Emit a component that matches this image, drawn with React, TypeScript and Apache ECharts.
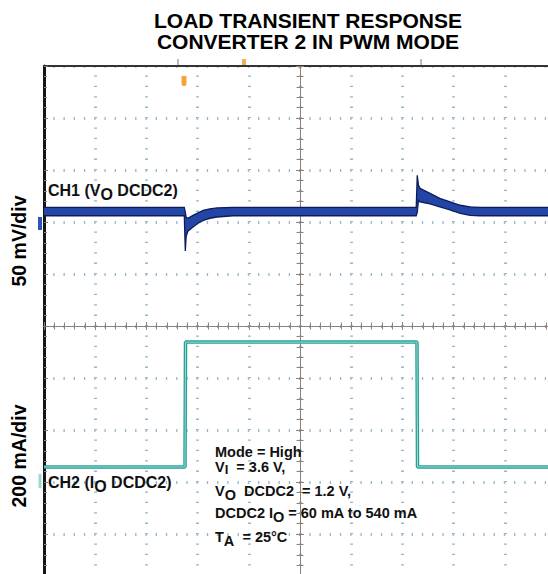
import React, { useEffect, useRef } from 'react';
import * as echarts from 'echarts';

// ---- data (time in oscilloscope divisions, 0 = screen centre) ----
const ch1Time = [-5, -2.26, -2.24, -2.223, -2.19, -2.09, -1.99, -1.89, -1.76, -1.62, -1.31, 2.27, 2.29, 2.314, 2.344, 2.44, 2.54, 2.73, 2.93, 3.13, 3.32, 3.52, 5];
// CH1 (VO DCDC2) noise envelope, mV relative to the DC level
const ch1UpperMv = [4, 4, -0.7, -5.5, -6.4, -3.6, -1.2, 1.2, 2.7, 3.5, 4, 4, 34.9, 25.3, 22.4, 20, 17.6, 12.8, 9.4, 6.1, 4.6, 4, 4];
const ch1LowerMv = [-4, -4, -37.9, -23.7, -18.9, -14.8, -11.2, -8.4, -6.4, -5.2, -4, -4, -0.7, 10.9, 9.4, 8.5, 7.5, 4.6, 1.7, -1.6, -3.6, -4, -4];
// CH2 (IO DCDC2) load current, mA
const ch2Time = [-5, -2.246, -2.236, 2.285, 2.295, 5];
const ch2CurrentMa = [60, 60, 540, 540, 60, 60];

const titleLines = ['LOAD TRANSIENT RESPONSE', 'CONVERTER 2 IN PWM MODE'];
const ch1Scale = '50 mV/div';
const ch2Scale = '200 mA/div';

// ---- scope calibration ----
const MV_PER_DIV = 50;
const MA_PER_DIV = 200;
const CH1_ZERO_DIV = 2.2;
const CH2_ZERO_DIV = -3.01;
const DIV_MIN = -5;
const DIV_MAX = 5;

const FONT = '"Liberation Sans", Arial, Helvetica, sans-serif';
const CENTER_COLOR = '#8e827c';
const DOT_COLOR = '#96b6cc';

function rich(fs: number, shift: number, subFs?: number) {
  return {
    n: { fontSize: fs, fontWeight: 'bold', fontFamily: FONT, color: '#111', verticalAlign: 'top', lineHeight: fs },
    s: { fontSize: subFs || fs, fontWeight: 'bold', fontFamily: FONT, color: '#111', verticalAlign: 'top', lineHeight: subFs || fs, padding: [shift, 0, 0, 0] },
  };
}

function textBlock(text: string, left: number, top: number, fs: number, shift: number, subFs?: number) {
  return {
    text,
    left,
    top,
    padding: 0,
    itemGap: 0,
    textStyle: { rich: rich(fs, shift, subFs) },
  };
}

export default function App() {
  const ref = useRef<HTMLDivElement>(null);
  useEffect(() => {
    if (!ref.current) return;
    const chart = echarts.init(ref.current, null, { renderer: 'svg' });
    const centreAxis = (position: string) => ({
      type: 'value',
      min: DIV_MIN,
      max: DIV_MAX,
      interval: 1,
      position,
      axisLine: { show: true, onZero: true, onZeroAxisIndex: 0, lineStyle: { color: CENTER_COLOR, width: 1 } },
      axisTick: { show: true, length: 4, lineStyle: { color: CENTER_COLOR, width: 1 } },
      minorTick: { show: true, splitNumber: 5, length: 3.5, lineStyle: { color: CENTER_COLOR, width: 1 } },
      axisLabel: { show: false },
      splitLine: { show: false },
    });
    const option: any = {
      animation: false,
      backgroundColor: '#ffffff',
      grid: { left: 44, right: 0, top: 66, bottom: 0, containLabel: false },
      title: [
        textBlock('{n|CH1 (V}{s|O}{n| DCDC2)}', 48, 182.5, 16, 4),
        textBlock('{n|CH2 (I}{s|O}{n| DCDC2)}', 48, 474.5, 16, 4),
        textBlock('{n|Mode = High}', 215, 444, 14.5, 4),
        textBlock('{n|V}{s|I}{n|  = 3.6 V,}', 215, 459, 14.5, 4, 13),
        textBlock('{n|V}{s|O}{n|  DCDC2  = 1.2 V,}', 215, 483, 14.5, 4),
        textBlock('{n|DCDC2 I}{s|O}{n| = 60 mA to 540 mA}', 215, 505.5, 14.5, 4),
        textBlock('{n|T}{s|A}{n|  = 25°C}', 215, 529, 14.5, 4),
      ],
      xAxis: [
        {
          ...centreAxis('bottom'),
          splitLine: { show: true, lineStyle: { color: DOT_COLOR, width: 3, type: [1.3, 9.1], dashOffset: 0.65 } },
        },
        centreAxis('top'),
        {
          type: 'value', min: DIV_MIN, max: DIV_MAX, position: 'top',
          axisLine: { show: true, onZero: false, lineStyle: { color: '#333', width: 2 } },
          axisTick: { show: false }, axisLabel: { show: false }, splitLine: { show: false },
        },
      ],
      yAxis: [
        {
          ...centreAxis('left'),
          splitLine: { show: true, lineStyle: { color: DOT_COLOR, width: 3, type: [1.3, 8.94], dashOffset: 0.65 } },
        },
        centreAxis('right'),
        {
          type: 'value', min: DIV_MIN, max: DIV_MAX, interval: 1, position: 'left',
          axisLine: { show: true, onZero: false, lineStyle: { color: '#161616', width: 3 } },
          axisTick: { show: true, inside: true, length: 4, lineStyle: { color: '#777' } },
          minorTick: { show: true, splitNumber: 5, length: 3, lineStyle: { color: '#888' } },
          axisLabel: { show: false }, splitLine: { show: false },
        },
        {
          type: 'value', show: false,
          min: (DIV_MIN - CH1_ZERO_DIV) * MV_PER_DIV,
          max: (DIV_MAX - CH1_ZERO_DIV) * MV_PER_DIV,
        },
        {
          type: 'value', show: false,
          min: (DIV_MIN - CH2_ZERO_DIV) * MA_PER_DIV,
          max: (DIV_MAX - CH2_ZERO_DIV) * MA_PER_DIV,
        },
      ],
      series: [
        {
          type: 'custom',
          name: 'CH1 (VO DCDC2)',
          xAxisIndex: 0,
          yAxisIndex: 3,
          silent: true,
          clip: true,
          z: 4,
          data: [[0, 0]],
          renderItem: (_params: any, api: any) => {
            const up = ch1Time.map((t, i) => api.coord([t, ch1UpperMv[i]]));
            const lo = ch1Time.map((t, i) => api.coord([t, ch1LowerMv[i]]));
            return {
              type: 'group',
              children: [
                { type: 'polygon', shape: { points: up.concat(lo.slice().reverse()) }, style: { fill: '#2345a6' } },
                { type: 'polyline', shape: { points: up }, style: { stroke: '#0e1c5c', lineWidth: 1.3, fill: 'none' } },
                { type: 'polyline', shape: { points: lo }, style: { stroke: '#0e1c5c', lineWidth: 1.3, fill: 'none' } },
              ],
            };
          },
        },
        {
          type: 'line',
          name: 'CH2 (IO DCDC2)',
          xAxisIndex: 0,
          yAxisIndex: 4,
          symbol: 'none',
          z: 4,
          data: ch2Time.map((t, i) => [t, ch2CurrentMa[i]]),
          lineStyle: { color: '#25a096', width: 3.5 },
        },
        {
          type: 'line',
          name: 'CH2 core',
          xAxisIndex: 0,
          yAxisIndex: 4,
          symbol: 'none',
          z: 5,
          data: ch2Time.map((t, i) => [t, ch2CurrentMa[i]]),
          lineStyle: { color: '#9fdcd4', width: 1 },
        },
      ],
      graphic: [
        {
          type: 'text', x: 308, y: 10.2,
          style: {
            text: titleLines.join('\n'), fontSize: 21, fontWeight: 'bold', fontFamily: FONT,
            lineHeight: 21, textAlign: 'center', textVerticalAlign: 'top', fill: '#000',
          },
        },
        {
          type: 'text', x: 19, y: 241, rotation: Math.PI / 2,
          style: { text: ch1Scale, fontSize: 19.5, fontWeight: 'bold', fontFamily: FONT, textAlign: 'center', textVerticalAlign: 'middle', fill: '#000' },
        },
        {
          type: 'text', x: 19, y: 456, rotation: Math.PI / 2,
          style: { text: ch2Scale, fontSize: 19.5, fontWeight: 'bold', fontFamily: FONT, textAlign: 'center', textVerticalAlign: 'middle', fill: '#000' },
        },
        { type: 'rect', shape: { x: 38, y: 217, width: 4, height: 13 }, style: { fill: '#2d55b5' } },
        { type: 'rect', shape: { x: 38.5, y: 474, width: 3, height: 14 }, style: { fill: '#9fd6d0' } },
        { type: 'rect', shape: { x: 181.5, y: 76, width: 5, height: 10, r: [0, 0, 2, 2] }, style: { fill: '#f2a33a' } },
        { type: 'rect', shape: { x: 242, y: 59, width: 4, height: 7 }, style: { fill: '#f0b060' } },
        { type: 'circle', shape: { cx: 300, cy: 67, r: 1.8 }, style: { fill: '#f0a040' } },
        { type: 'line', shape: { x1: 178, y1: 59, x2: 178, y2: 65 }, style: { stroke: '#777', lineWidth: 1 } },
        { type: 'line', shape: { x1: 421, y1: 59, x2: 421, y2: 65 }, style: { stroke: '#777', lineWidth: 1 } },
      ],
    };
    chart.setOption(option);
    return () => chart.dispose();
  }, []);
  return (
    <div style={{ position: 'fixed', left: 0, top: 0, width: 548, height: 574, background: '#fff', overflow: 'hidden' }}>
      <div ref={ref} style={{ position: 'absolute', left: 0, top: 0, width: 556, height: 586 }} />
    </div>
  );
}
